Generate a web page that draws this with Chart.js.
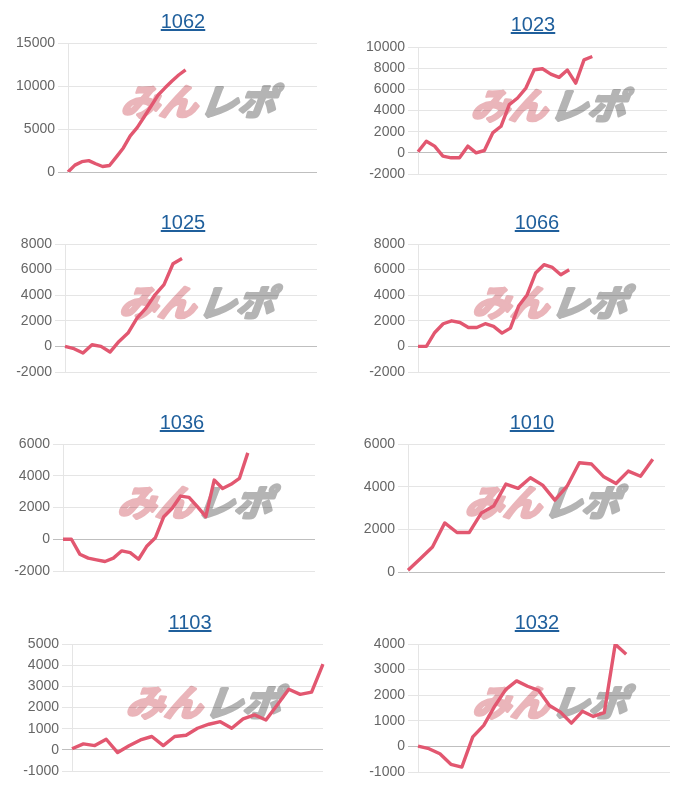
<!DOCTYPE html>
<html><head><meta charset="utf-8">
<script src="https://cdn.jsdelivr.net/npm/chart.js@4.4.0/dist/chart.umd.min.js"></script>
<style>
html,body{margin:0;padding:0;background:#fff;}
#wrap{position:relative;width:700px;height:800px;overflow:hidden;}
.panel{position:absolute;width:350px;height:200px;}
.panel canvas{position:absolute;left:0;top:0;}
.panel a{position:absolute;font-family:"Liberation Sans",Arial,sans-serif;font-size:20px;line-height:20px;color:#1f5f9c;text-decoration:underline;transform:translateX(-50%);white-space:nowrap;}
</style></head><body><div id="wrap"></div>
<script>
// ---- data ----
const titles = ['1062', '1023', '1025', '1066', '1036', '1010', '1103', '1032'];
const s1062 = [0, 800, 1200, 1320, 960, 640, 760, 1760, 2800, 4200, 5160, 6400, 7640, 8920, 9760, 10560, 11280, 11880];
const s1023 = [100, 1100, 630, -310, -470, -470, 630, 0, 220, 1880, 2510, 4550, 5180, 6120, 7850, 7940, 7440, 7130, 7820, 6590, 8790, 9100];
const s1025 = [0, -180, -520, 130, 0, -440, 390, 1040, 2210, 2990, 4030, 4820, 6460, 6870];
const s1066 = [0, 0, 1090, 1770, 2000, 1870, 1480, 1480, 1770, 1560, 1040, 1430, 3180, 4040, 5730, 6380, 6170, 5600, 5990];
const s1036 = [0, 0, -940, -1190, -1300, -1400, -1190, -730, -840, -1260, -420, 100, 1420, 1950, 2720, 2640, 2050, 1420, 3730, 3200, 3460, 3830, 5440];
const s1010 = [80, 620, 1170, 2300, 1850, 1850, 2770, 3090, 4120, 3920, 4420, 4070, 3370, 4020, 5120, 5060, 4460, 4150, 4730, 4490, 5290];
const s1103 = [50, 280, 200, 500, -130, 190, 470, 630, 200, 630, 690, 1020, 1210, 1330, 1020, 1460, 1650, 1410, 2130, 2860, 2620, 2730, 4050];
const s1032 = [10, -90, -290, -700, -810, 370, 820, 1570, 2220, 2560, 2350, 2190, 1600, 1340, 910, 1370, 1170, 1320, 3990, 3600];
const series = [s1062, s1023, s1025, s1066, s1036, s1010, s1103, s1032];
// number of x categories (days) on each chart
const categoryCounts = [37, 31, 29, 31, 31, 22, 23, 24];
// y-axis tick ranges
const yMin  = [0, -2000, -2000, -2000, -2000, 0, -1000, -1000];
const yMax  = [15000, 10000, 8000, 8000, 6000, 6000, 5000, 4000];
const yStep = [5000, 2000, 2000, 2000, 2000, 2000, 1000, 1000];

// ---- layout (panel-relative) ----
const layoutBoxes = [
  {x:0,   y:0,   l:68, r:317, t:43, b:172, tx:183, tb:28},
  {x:350, y:0,   l:68, r:317, t:47, b:174, tx:183, tb:31},
  {x:0,   y:200, l:65, r:317, t:44, b:172, tx:183, tb:29},
  {x:350, y:200, l:68, r:320, t:44, b:172, tx:187, tb:29},
  {x:0,   y:400, l:63, r:315, t:44, b:171, tx:182, tb:29},
  {x:350, y:400, l:58, r:315, t:44, b:172, tx:182, tb:29},
  {x:0,   y:600, l:72, r:323, t:44, b:171, tx:190, tb:29},
  {x:350, y:600, l:68, r:320, t:44, b:172, tx:187, tb:29}
];

const watermark = {
  id: 'wm',
  beforeDraw(chart) {
    const ctx = chart.ctx, a = chart.chartArea;
    const cx = (a.left + a.right) / 2 + 9, cy = a.top + 58;
    ctx.save();
    ctx.font = 'bold 36px "Noto Sans CJK JP", sans-serif';
    ctx.textBaseline = 'middle';
    ctx.lineJoin = 'round';
    ctx.lineWidth = 3;
    const w1 = ctx.measureText('みん').width;
    const w2 = ctx.measureText('レポ').width;
    const total = w1 + w2;
    ctx.translate(cx, cy);
    ctx.transform(1.06, 0, -0.38, 1, 0, 0);
    ctx.fillStyle = '#eab5ba'; ctx.strokeStyle = '#eab5ba';
    ctx.strokeText('みん', -total / 2, 0);
    ctx.fillText('みん', -total / 2, 0);
    ctx.fillStyle = '#b4b4b4'; ctx.strokeStyle = '#b4b4b4';
    ctx.strokeText('レポ', -total / 2 + w1 + 2, 0);
    ctx.fillText('レポ', -total / 2 + w1 + 2, 0);
    ctx.restore();
  }
};

const wrap = document.getElementById('wrap');
series.forEach((data, i) => {
  const L = layoutBoxes[i];
  const panel = document.createElement('div');
  panel.className = 'panel';
  panel.style.left = L.x + 'px';
  panel.style.top = L.y + 'px';
  const cv = document.createElement('canvas');
  cv.width = 350; cv.height = 200;
  cv.style.width = '350px'; cv.style.height = '200px';
  panel.appendChild(cv);
  const a = document.createElement('a');
  a.href = '#';
  a.textContent = titles[i];
  a.style.left = L.tx + 'px';
  a.style.top = (L.tb - 17) + 'px';
  panel.appendChild(a);
  wrap.appendChild(panel);

  const labels = Array.from({length: categoryCounts[i]}, (_, k) => String(k + 1));
  new Chart(cv, {
    type: 'line',
    data: {
      labels: labels,
      datasets: [{
        data: data,
        borderColor: 'rgb(226,87,112)',
        borderWidth: 3.4,
        pointRadius: 0,
        pointHoverRadius: 0,
        fill: false,
        tension: 0,
        borderJoinStyle: 'round'
      }]
    },
    options: {
      responsive: false,
      animation: false,
      devicePixelRatio: 1,
      layout: { padding: { left: 0, right: 350 - L.r, top: L.t, bottom: 200 - L.b } },
      plugins: { legend: { display: false }, tooltip: { enabled: false }, title: { display: false } },
      events: [],
      scales: {
        x: { display: false },
        y: {
          min: yMin[i], max: yMax[i],
          afterFit(scale) { scale.width = L.l; },
          ticks: {
            stepSize: yStep[i],
            color: '#666',
            padding: 3,
            font: { family: '"Liberation Sans", Arial, sans-serif', size: 14 },
            callback: v => String(v)
          },
          grid: {
            color: c => (c.tick && c.tick.value === 0) ? 'rgba(0,0,0,0.25)' : 'rgba(0,0,0,0.1)',
            drawTicks: true,
            tickLength: 10
          },
          border: { display: true, color: 'rgba(0,0,0,0.1)' }
        }
      }
    },
    plugins: [watermark]
  });
});
</script>
</body></html>
